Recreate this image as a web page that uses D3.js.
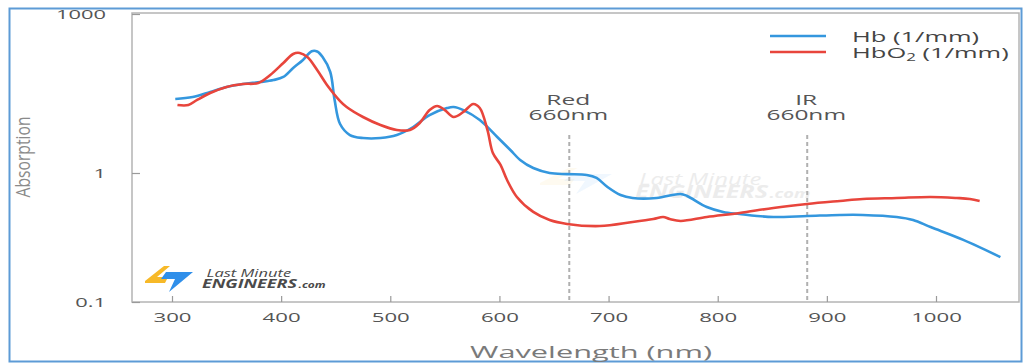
<!DOCTYPE html>
<html>
<head>
<meta charset="utf-8">
<script src="https://cdn.jsdelivr.net/npm/d3@7"></script>
<style>
  html, body { margin: 0; padding: 0; background: #fff; }
  svg { display: block; font-family: 'Open Sans', sans-serif; }
</style>
</head>
<body>
<div id="chart"></div>
<script>
// wavelengths (nm) and absorption (1/mm)
const hbWavelength = [303,319,335,350,365,381,393,402,411,420,428,433,438,445,449,454,463,475,491,506,
  521,536,552,558,567,582,598,610,619,631,646,662,680,689,699,711,722,744,766,772,
  790,805,820,836,851,882,912,933,964,979,995,1025,1059]
const hbAbs = [24.9,27.2,33.8,42.0,47.8,52.1,56.8,64.8,95.8,135.6,198,196,154,80.5,23.8,8.4,5.21,4.57,4.57,5.21,
  7.38,12.4,16.8,17.6,15.4,10.0,4.78,2.72,1.76,1.24,1.0,0.98,0.965,0.915,0.779,0.675,0.64,0.64,0.688,0.663,
  0.545,0.499,0.481,0.464,0.456,0.464,0.473,0.473,0.456,0.432,0.381,0.303,0.223]

const hbo2Wavelength = [305,315,323,335,350,365,379,390,402,411,417,424,433,442,454,460,475,491,506,518,
  527,536,543,550,558,567,576,582,589,594,601,607,616,631,646,662,692,722,741,750,
  756,766,790,820,851,882,912,933,964,995,1019,1031,1040]
const hbo2Abs = [19.2,19.2,23.9,32.3,42.0,47.8,49.9,70.6,119,176,184,154,87.8,45.8,22.8,17.6,11.4,8.05,6.48,6.48,
  8.78,15.4,18.4,15.4,11.4,14.2,20.0,16.8,6.48,2.38,1.42,0.882,0.652,0.499,0.432,0.403,0.388,0.417,0.440,0.456,
  0.440,0.425,0.456,0.490,0.536,0.575,0.607,0.629,0.640,0.652,0.640,0.629,0.607]

const xTicks = [300,400,500,600,700,800,900,1000]
const yTicks = [0.1, 1, 1000]
const markerNm = [664, 882]
const markerLabels = [['Red','660nm'], ['IR','660nm']]

const W = 1026, H = 364
const frame = { left: 132, top: 13, right: 1019, bottom: 302 }
const sx = 1.75  // the reference is stretched sideways

const svg = d3.select('#chart').append('svg')
  .attr('width', W).attr('height', H)

// outer blue border
svg.append('rect')
  .attr('x', 9.5).attr('y', 8.5).attr('width', 1012).attr('height', 353)
  .attr('fill', 'none').attr('stroke', '#5d9bd6').attr('stroke-width', 2)

const x = d3.scaleLinear().domain([300, 1000]).range([172, 936])
const y = d3.scaleLog().domain([0.1, 1, 1000]).range([frame.bottom, 173, 14])

// logo shapes
function logo(g, op) {
  g.append('polygon')
    .attr('points', '19,0 25,0 12,11 23,11 20,17 0,17 0,15')
    .attr('fill', '#f7b928').attr('opacity', op)
  g.append('polygon')
    .attr('points', '21,6 48,6 24,26 30,13 16,13')
    .attr('fill', '#2f8fea').attr('opacity', op)
}

// two-line brand text in one element
function brand(tx, ty, s, fill) {
  const t = svg.append('text')
    .attr('transform', `translate(${tx},${ty}) scale(${s.k},1)`)
    .attr('fill', fill).attr('font-style', 'italic')
  t.append('tspan').attr('x', s.x1).attr('y', 0)
    .attr('font-size', s.f1).text('Last Minute')
  t.append('tspan').attr('x', 0).attr('y', s.dy)
    .attr('font-size', s.f2).attr('font-weight', 'bold').text('ENGINEERS')
  t.append('tspan').attr('dx', 1).attr('font-size', s.f3).attr('font-weight', 'bold').text('.com')
}

// faint watermark in the middle
logo(svg.append('g').attr('transform', 'translate(540,168) scale(1.5,1)'), 0.07)
brand(635, 185, { k: 1.4, x1: 3, f1: 17, f2: 18, f3: 13, dy: 13 }, '#ececec')

// plot frame
svg.append('rect')
  .attr('x', frame.left).attr('y', frame.top)
  .attr('width', frame.right - frame.left).attr('height', frame.bottom - frame.top)
  .attr('fill', 'none').attr('stroke', '#b4b4b4').attr('stroke-width', 1.5)

// x axis
const xAxis = svg.append('g')
  .attr('transform', `translate(0, ${frame.bottom})`)
  .call(d3.axisBottom(x).tickValues(xTicks).tickFormat(d => String(d)).tickSizeInner(-6).tickSizeOuter(0))
xAxis.select('.domain').remove()
xAxis.selectAll('line').attr('stroke', '#9a9a9a').attr('stroke-width', 1.2)
xAxis.selectAll('text')
  .attr('y', 0).attr('dy', 0)
  .attr('transform', `translate(0,20) scale(1.85,1)`)
  .attr('font-size', 12).attr('fill', '#555')
  .attr('font-family', 'Open Sans, sans-serif')

// y axis
const yAxis = svg.append('g')
  .attr('transform', `translate(${frame.left}, 0)`)
  .call(d3.axisLeft(y).tickValues(yTicks).tickFormat(d => String(d)).tickSizeInner(-8).tickSizeOuter(0))
yAxis.select('.domain').remove()
yAxis.selectAll('line').attr('stroke', '#9a9a9a').attr('stroke-width', 1.2)
yAxis.selectAll('text')
  .attr('x', 0).attr('dy', '0.35em')
  .attr('text-anchor', 'end')
  .attr('transform', `translate(-26,0) scale(${sx},1)`)
  .attr('font-size', 12.5).attr('fill', '#555')
  .attr('font-family', 'Open Sans, sans-serif')

// axis titles
svg.append('text')
  .attr('transform', 'translate(23,157) scale(1.35,1) rotate(-90)')
  .attr('text-anchor', 'middle').attr('dy', '0.35em')
  .attr('font-size', 15).attr('fill', '#8a8a8a')
  .attr('textLength', 81).attr('lengthAdjust', 'spacingAndGlyphs')
  .text('Absorption')
svg.append('text')
  .attr('x', 470).attr('y', 358)
  .attr('font-size', 15.5).attr('fill', '#7a7a7a')
  .attr('textLength', 242).attr('lengthAdjust', 'spacingAndGlyphs')
  .text('Wavelength (nm)')

// marker lines + labels
markerNm.forEach((nm, i) => {
  svg.append('line')
    .attr('x1', x(nm)).attr('x2', x(nm))
    .attr('y1', 135).attr('y2', frame.bottom)
    .attr('stroke', '#b0b0b0').attr('stroke-width', 2)
    .attr('stroke-dasharray', '4,3')
  const t = svg.append('text')
    .attr('transform', `translate(${x(nm) - 1}, 105) scale(${sx},1)`)
    .attr('text-anchor', 'middle')
    .attr('font-size', 14).attr('fill', '#555')
  markerLabels[i].forEach((s, j) => {
    t.append('tspan').attr('x', 0).attr('y', j * 15).text(s)
  })
})

// lines
const line = d3.line()
  .curve(d3.curveCatmullRom.alpha(0.5))
  .x(d => x(d[0]))
  .y(d => y(d[1]))

const hbData = hbWavelength.map((w, i) => [w, hbAbs[i]])
const hbo2Data = hbo2Wavelength.map((w, i) => [w, hbo2Abs[i]])

svg.append('path').datum(hbData)
  .attr('d', line)
  .attr('fill', 'none').attr('stroke', '#3497de').attr('stroke-width', 2.6)
svg.append('path').datum(hbo2Data)
  .attr('d', line)
  .attr('fill', 'none').attr('stroke', '#e8453c').attr('stroke-width', 2.6)

// legend
const legend = [
  { color: '#3497de', y: 36 },
  { color: '#e8453c', y: 52 }
]
legend.forEach(l => {
  svg.append('line')
    .attr('x1', 770).attr('x2', 826).attr('y1', l.y).attr('y2', l.y)
    .attr('stroke', l.color).attr('stroke-width', 2.5)
})
const lt = svg.append('text')
  .attr('transform', 'translate(852,42) scale(1.7,1)')
  .attr('font-size', 15).attr('fill', '#444')
lt.append('tspan').attr('x', 0).attr('y', 0).text('Hb (1/mm)')
lt.append('tspan').attr('x', 0).attr('y', 16).text('HbO')
lt.append('tspan').attr('font-size', 10).attr('dy', 3).text('2')
lt.append('tspan').attr('dy', -3).text(' (1/mm)')

// logo bottom left
logo(svg.append('g').attr('transform', 'translate(145,266)'), 1)
brand(202, 277, { k: 1.5, x1: 3, f1: 11, f2: 12, f3: 8, dy: 11 }, '#4a4a4a')
</script>
</body>
</html>
